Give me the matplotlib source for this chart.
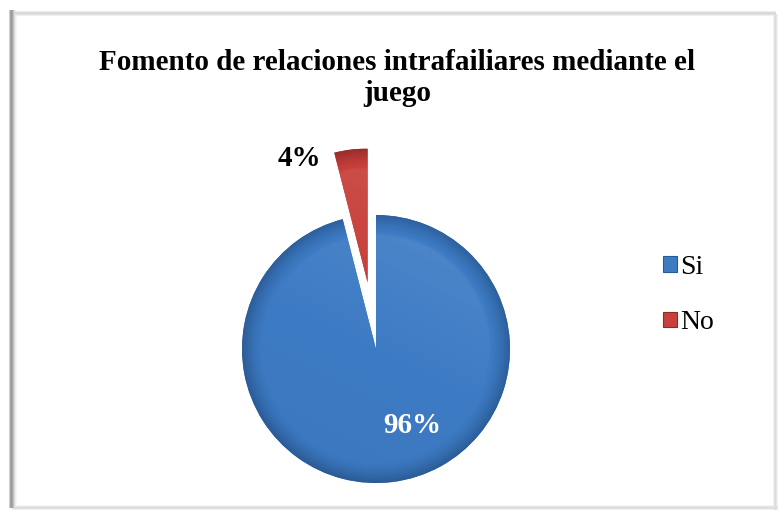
import numpy as np
import matplotlib
matplotlib.use("Agg")
import matplotlib.pyplot as plt
from matplotlib.patches import Rectangle
from matplotlib.colors import LinearSegmentedColormap

labels = ["Si", "No"]
values = [96, 4]
pct_labels = ["96%", "4%"]
colors = ["#3D7BC4", "#C8403B"]
dark_colors = ["#2A5A94", "#8E2A27"]
title = "Fomento de relaciones intrafailiares mediante el\njuego"

W, H = 778, 511
fig = plt.figure(figsize=(W / 100, H / 100), dpi=100)
fig.patch.set_facecolor("white")

# soft shadowed frame drawn as a background image (rows from top)
bg = np.ones((H, W))
left_band = [0.80, 0.66, 0.60, 0.66, 0.76, 0.86, 0.93, 0.97]
for i, v in enumerate(left_band):
    bg[10:508, 9 + i] = np.minimum(bg[10:508, 9 + i], v)
top_band = [0.92, 0.86, 0.84, 0.88, 0.94]
for i, v in enumerate(top_band):
    bg[11 + i, 12:776] = np.minimum(bg[11 + i, 12:776], v)
bottom_band = [0.96, 0.90, 0.86, 0.88, 0.94]
for i, v in enumerate(bottom_band):
    bg[505 + i, 12:778] = np.minimum(bg[505 + i, 12:778], v)
right_band = [0.95, 0.88, 0.86, 0.90, 0.95]
for i, v in enumerate(right_band):
    if 773 + i < W:
        bg[14:510, 773 + i] = np.minimum(bg[14:510, 773 + i], v)
bgax = fig.add_axes([0, 0, 1, 1])
bgax.imshow(bg, cmap="gray", vmin=0, vmax=1, extent=[0, W, 0, H], origin="upper",
            interpolation="nearest", aspect="auto")
bgax.axis("off")
bgax.set_zorder(0)

cx, cy, R = 376, 162, 134
half = 200
ax = fig.add_axes([(cx - half) / W, (cy - half) / H, 2 * half / W, 2 * half / H])
ax.set_zorder(2)
ax.patch.set_alpha(0)
lim = half / R

wedges, _ = ax.pie(values, colors=colors, startangle=90, counterclock=False,
                   explode=[0, 0.5], radius=1.0, center=(0, 0), frame=False,
                   wedgeprops=dict(linewidth=0.6, edgecolor="none"))
ax.set_xlim(-lim, lim)
ax.set_ylim(-lim, lim)
ax.set_aspect("equal")
ax.axis("off")

# bevel shading via clipped radial gradient
for w, c, dc in zip(wedges, colors, dark_colors):
    cxw, cyw = w.center
    n = 400
    xs = np.linspace(-lim, lim, n)
    X, Y = np.meshgrid(xs, xs)
    r = np.hypot(X - cxw, Y - cyw)
    val = np.clip((r - 0.84) / 0.16, 0, 1) ** 1.5 * 0.9
    val = val + np.clip(-(X - cxw) * 0.04 - (Y - cyw) * 0.08, -0.12, 0.12)
    cmap = LinearSegmentedColormap.from_list("g", ["#ffffff", c, dc])
    img = ax.imshow(0.5 + val * 0.5, extent=[-lim, lim, -lim, lim], origin="lower",
                    cmap=cmap, vmin=0, vmax=1, zorder=w.get_zorder() + 0.1,
                    interpolation="bilinear")
    img.set_clip_path(w)

# percentage labels
ax.text(0.27, -0.57, pct_labels[0], color="white", fontsize=21, fontweight="bold",
        family="Liberation Serif", ha="center", va="center", zorder=5)
ax.text(-0.57, 1.42, pct_labels[1], color="black", fontsize=21, fontweight="bold",
        family="Liberation Serif", ha="center", va="center", zorder=5)

fig.text(397 / W, 1 - 78 / H, title, ha="center", va="center", fontsize=21,
         fontweight="bold", family="Liberation Serif", linespacing=1.15, zorder=3)

# legend
handles = [Rectangle((0, 0), 1, 1, facecolor=c, edgecolor=dc, linewidth=0.8)
           for c, dc in zip(colors, dark_colors)]
leg = fig.legend(handles, labels, loc="center left", bbox_to_anchor=(652 / W, 1 - 295 / H),
                 frameon=False, prop=dict(family="Liberation Serif", size=20),
                 handlelength=0.5, handleheight=0.5, handletextpad=0.12,
                 labelspacing=1.1, borderaxespad=0)
leg.set_zorder(4)

fig.savefig("out.png", dpi=100)
